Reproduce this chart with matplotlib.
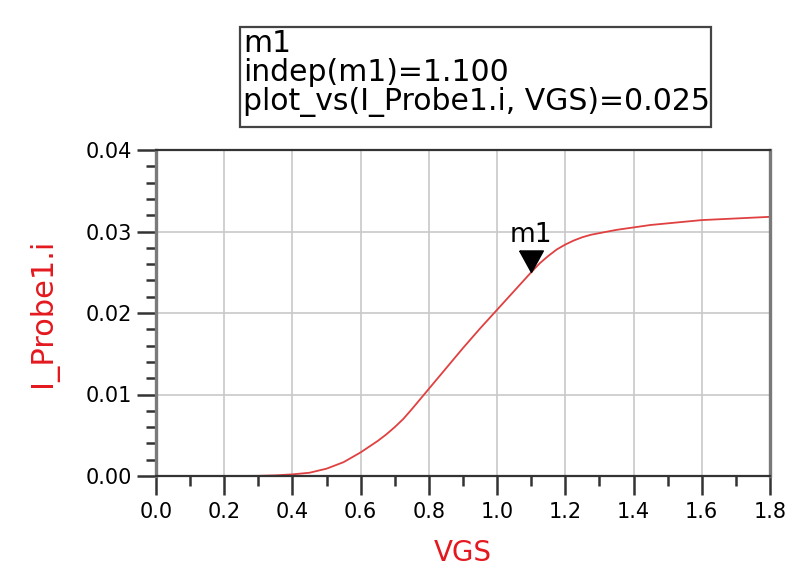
import numpy as np
import matplotlib
matplotlib.use('Agg')
import matplotlib.pyplot as plt
from matplotlib.patches import Rectangle
from matplotlib.ticker import MultipleLocator, FormatStrFormatter

# swept gate voltage and probe current
vgs = [0.0, 0.1, 0.2, 0.3, 0.35, 0.4, 0.45, 0.5, 0.525, 0.55, 0.575, 0.6,
       0.625, 0.65, 0.675, 0.7, 0.725, 0.75, 0.8, 0.85, 0.9, 0.95, 1.0, 1.05,
       1.1, 1.125, 1.15, 1.175, 1.2, 1.225, 1.25, 1.275, 1.3, 1.35, 1.4, 1.45,
       1.5, 1.55, 1.6, 1.65, 1.7, 1.75, 1.8]
i_probe = [0.0, 0.0, 0.0, 0.00002, 0.00008, 0.0002, 0.0004, 0.0009, 0.0013,
           0.0017, 0.0023, 0.0029, 0.0036, 0.0043, 0.0051, 0.0060, 0.0070,
           0.0082, 0.0107, 0.0132, 0.0157, 0.0181, 0.0204, 0.0227, 0.0250,
           0.0261, 0.0270, 0.0278, 0.0284, 0.0289, 0.0293, 0.0296, 0.0298,
           0.0302, 0.0305, 0.0308, 0.0310, 0.0312, 0.0314, 0.0315, 0.0316,
           0.0317, 0.0318]

marker_name = 'm1'
marker_x = 1.1
marker_y = 0.025
readout = ['m1', 'indep(m1)=1.100', 'plot_vs(I_Probe1.i, VGS)=0.025']

red = '#e3191f'
plt.rcParams['font.family'] = ['DejaVu Sans']

fig = plt.figure(figsize=(8.11, 5.74), dpi=100)
ax = fig.add_axes([156 / 811, 1 - 476 / 574, 614 / 811, 326 / 574])

ax.plot(vgs, i_probe, color='#e04040', lw=1.3, solid_joinstyle='round')

# marker: triangle with its tip on the data point
tri = [(-0.55, 1.0), (0.55, 1.0), (0.0, 0.0), (-0.55, 1.0)]
ax.plot([marker_x], [marker_y], marker=tri, ms=31, color='black', zorder=5)
ax.annotate(marker_name, xy=(marker_x, marker_y), xytext=(0, 27),
            textcoords='offset points', ha='center', va='center', fontsize=19)

ax.set_xlim(0, 1.8)
ax.set_ylim(0, 0.04)
ax.xaxis.set_major_locator(MultipleLocator(0.2))
ax.xaxis.set_minor_locator(MultipleLocator(0.1))
ax.yaxis.set_major_locator(MultipleLocator(0.01))
ax.yaxis.set_minor_locator(MultipleLocator(0.002))
ax.xaxis.set_major_formatter(FormatStrFormatter('%.1f'))
ax.yaxis.set_major_formatter(FormatStrFormatter('%.2f'))

ax.grid(True, which='major', color='#c8c8c8', lw=1.2)
ax.set_axisbelow(True)

ax.tick_params(axis='x', which='major', length=14, width=1.8, color='#333333',
               labelsize=15, pad=5, direction='out')
ax.tick_params(axis='x', which='minor', length=7, width=1.8, color='#333333')
ax.tick_params(axis='y', which='major', length=14, width=1.8, color='#333333',
               labelsize=15, pad=3, direction='out')
ax.tick_params(axis='y', which='minor', length=7, width=1.8, color='#333333')

for side in ['top', 'bottom']:
    ax.spines[side].set_color('#333333')
    ax.spines[side].set_linewidth(1.6)
for side in ['left', 'right']:
    ax.spines[side].set_color('#7a7a7a')
    ax.spines[side].set_linewidth(2.4)

ax.set_xlabel('VGS', color=red, fontsize=20, labelpad=12)
ax.set_ylabel('I_Probe1.i', color=red, fontsize=22, labelpad=20)

# marker readout box
fig.patches.append(Rectangle((240 / 811, 1 - 127 / 574), 471 / 811, 100 / 574,
                             transform=fig.transFigure, fill=False,
                             edgecolor='#444444', lw=1.6))
fig.text(243 / 811, 1 - 29 / 574, '\n'.join(readout), ha='left', va='top',
         fontsize=21.5, linespacing=1.0)

fig.savefig('out.png', dpi=100)
